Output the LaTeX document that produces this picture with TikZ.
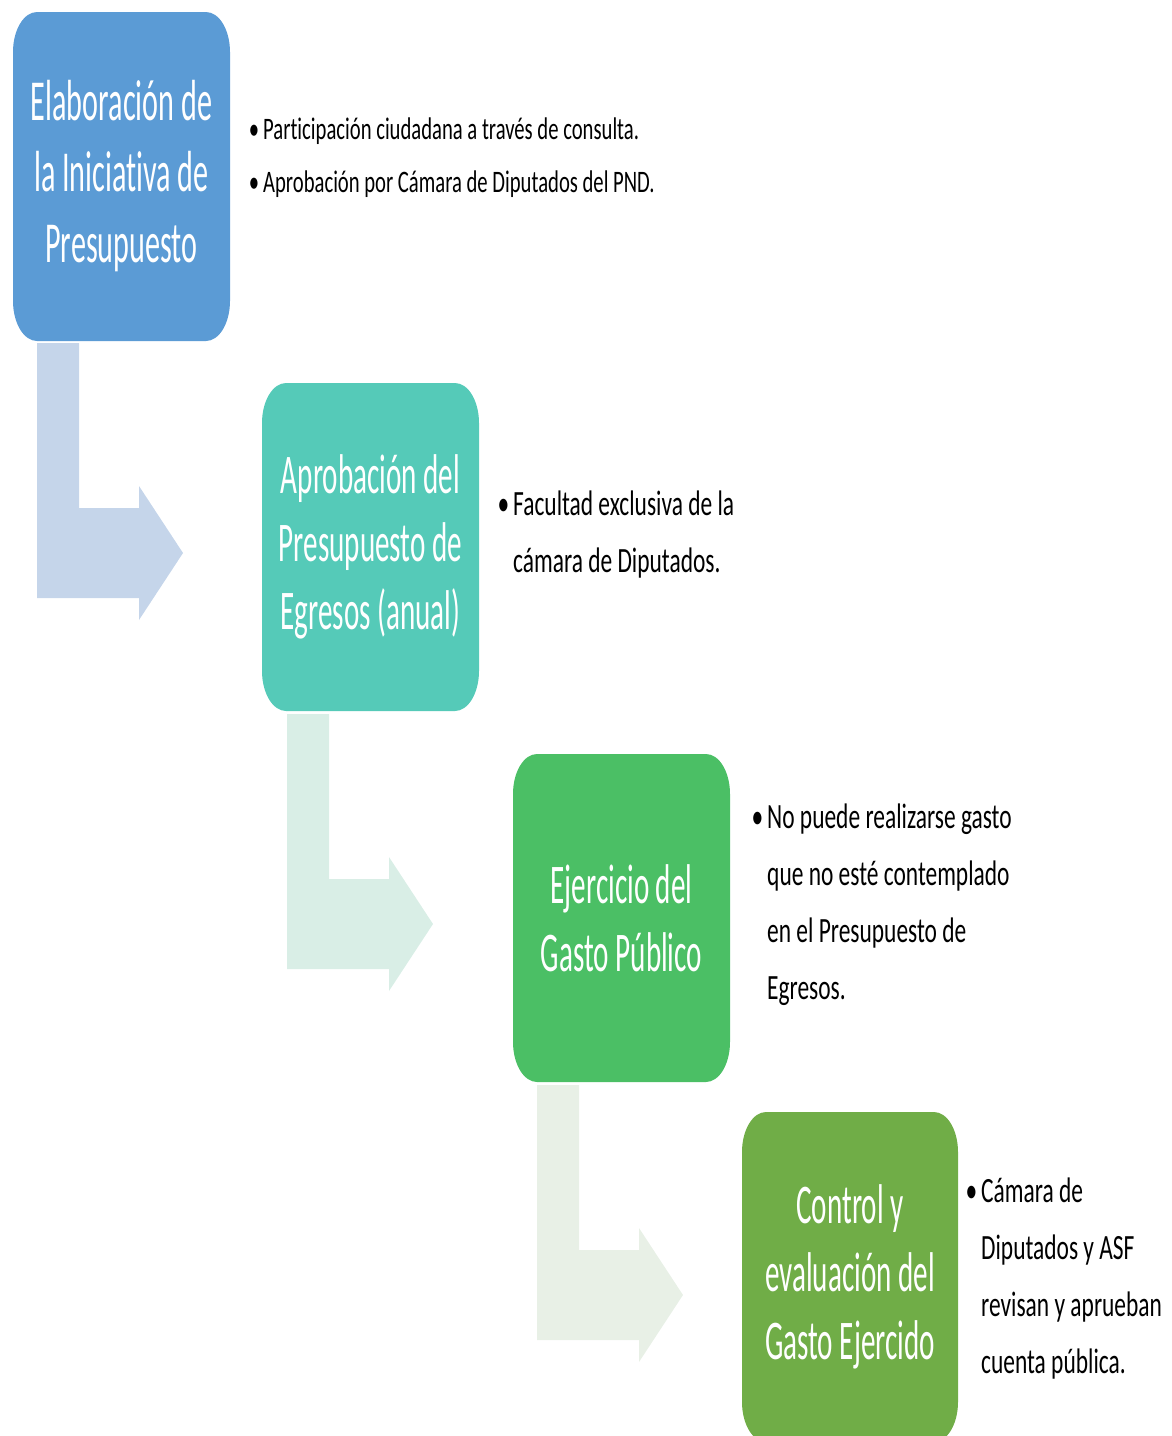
\documentclass[tikz,border=0pt]{standalone}
\usepackage{fontspec}
\setmainfont{Carlito}
\newfontfamily\boxfont[FakeStretch=0.52,Ligatures=NoCommon]{Carlito}
\newfontfamily\bulfont[FakeStretch=0.66,Ligatures=NoCommon]{Carlito}
\definecolor{cblue}{HTML}{5B9BD5}
\definecolor{cteal}{HTML}{55CAB8}
\definecolor{cgreen}{HTML}{4BBF65}
\definecolor{colive}{HTML}{70AD47}
\definecolor{aone}{HTML}{C5D5EA}
\definecolor{atwo}{HTML}{D9EEE6}
\definecolor{athree}{HTML}{E8F0E6}
\newcommand{\rbox}[5]{%
  \fill[#5] ({#1+24},#2) -- ({#3-24},#2) .. controls ({#3-10.75},#2) and (#3,{#2+17.9}) .. (#3,{#2+40})
   -- (#3,{#4-40}) .. controls (#3,{#4-17.9}) and ({#3-10.75},#4) .. ({#3-24},#4)
   -- ({#1+24},#4) .. controls ({#1+10.75},#4) and (#1,{#4-17.9}) .. (#1,{#4-40})
   -- (#1,{#2+40}) .. controls (#1,{#2+17.9}) and ({#1+10.75},#2) .. ({#1+24},#2) -- cycle;}
\newcommand{\barrow}[3]{%
  \fill[#3,shift={(#1,#2)}] (37,343) -- (79,343) -- (79,508) -- (139,508) -- (139,486)
   -- (183,553) -- (139,620) -- (139,598) -- (37,598) -- cycle;}
\newcommand{\bul}{\llap{\textbullet\hspace{4pt}}}
\tikzset{
  boxtext/.style={text=white, align=center, inner sep=0pt, font=\boxfont\fontsize{56}{68}\selectfont},
  bultext/.style={text=black, align=left, inner sep=0pt, anchor=base west, font=\bulfont\fontsize{35.5}{57}\selectfont}
}
\begin{document}
\begin{tikzpicture}[x=1pt,y=-1pt]
\useasboundingbox (0,0) rectangle (1172,1436);
% bent arrows
\barrow{0}{0}{aone}
\barrow{250}{371}{atwo}
\barrow{500}{742}{athree}
% boxes
\rbox{13}{12}{230}{341}{cblue}
\rbox{262}{383}{479}{711}{cteal}
\rbox{513}{754}{730}{1082}{cgreen}
\rbox{742}{1112}{958}{1442}{colive}
\node[boxtext, font=\boxfont\fontsize{58}{71}\selectfont] (b1) at (121.5,176.5) {Elaboración de\\la Iniciativa de\\Presupuesto};
\node[boxtext] (b2) at (370.5,547) {Aprobación del\\Presupuesto de\\Egresos (anual)};
\node[boxtext] (b3) at (621.5,918) {Ejercicio del\\Gasto Público};
\node[boxtext] (b4) at (850,1277) {Control y\\evaluación del\\Gasto Ejercido};
% bullet texts (anchored at the baseline of their last line)
\node[bultext, font=\bulfont\fontsize{31.3}{53}\selectfont] (t1) at (263,192) {\bul Participación ciudadana a través de consulta.\\\bul Aprobación por Cámara de Diputados del PND.};
\node[bultext] (t2) at (513,572) {\bul Facultad exclusiva de la\\cámara de Diputados.};
\node[bultext] (t3) at (767,999) {\bul No puede realizarse gasto\\que no esté contemplado\\en el Presupuesto de\\Egresos.};
\node[bultext] (t4) at (981,1373) {\bul Cámara de\\Diputados y ASF\\revisan y aprueban\\cuenta pública.};
\end{tikzpicture}
\end{document}
